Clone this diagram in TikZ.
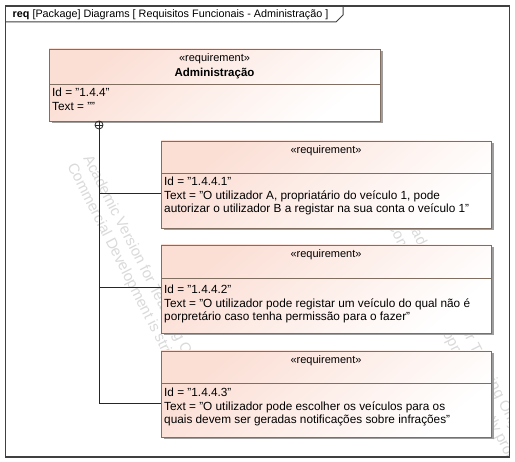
\documentclass[tikz,border=0pt]{standalone}
\usepackage{fontspec}
\setmainfont{Liberation Sans}
\usetikzlibrary{shadows}
\definecolor{boxbrd}{RGB}{128,110,96}
\definecolor{boxpink}{RGB}{251,222,212}
\definecolor{frm}{RGB}{64,64,64}
\definecolor{wm}{RGB}{218,218,218}
\tikzset{
  reqbox/.style={draw=boxbrd, line width=0.9pt, top color=boxpink, bottom color=white, shading angle=40,
    anchor=north west, inner sep=0pt, outer sep=0pt,
    drop shadow={shadow xshift=2.5pt, shadow yshift=-2.5pt, fill=black!38, opacity=1}},
  txt/.style={anchor=base west, inner sep=0pt, font=\fontsize{11.8}{13}\selectfont},
  stereo/.style={anchor=base, inner sep=0pt, font=\fontsize{11}{12}\selectfont},
  divider/.style={draw=boxbrd, line width=0.9pt},
  conn/.style={draw=black!85, line width=0.9pt},
  wmark/.style={text=wm, font=\fontsize{15}{17}\selectfont, rotate=-63, anchor=base west, inner sep=0pt}
}
\begin{document}
\begin{tikzpicture}[x=1pt,y=-1pt]
\useasboundingbox (0,0) rectangle (515,462);
\fill[white] (0,0) rectangle (515,462);
% watermark
\begin{scope}
\clip (5.5,22) rectangle (509.5,457);
\node[wmark] (wa1) at (83,158) {Academic Version for Teaching Only};
\node[wmark] (wb1) at (67,166) {Commercial Development is strictly prohibited};
\node[wmark] (wa2) at (403,216) {Academic Version for Teaching Only};
\node[wmark] (wb2) at (387,224) {Commercial Development is strictly prohibited};
\end{scope}
% frame
\draw[frm, line width=1.1pt] (5.5,6) rectangle (509.5,457);
\draw[frm, line width=1pt] (5.5,22) -- (336,22) -- (343,15) -- (343,6);
\node[anchor=base west, inner sep=0pt, font=\fontsize{10.8}{12}\selectfont] (title) at (12.5,18)
  {\textbf{req} [Package] Diagrams [ Requisitos Funcionais - Administração ]};
% boxes
\node[reqbox, minimum width=331pt, minimum height=72pt] (admin) at (49,49) {};
\draw[divider] (admin.west |- 0,84) -- (admin.east |- 0,84);
\node[stereo] (admst) at (214.5,61.5) {«requirement»};
\node[stereo, font=\fontsize{11.5}{12}\selectfont\bfseries] (admname) at (214.5,77) {Administração};
\node[txt] (admid) at (52,97) {Id = "1.4.4"};
\node[txt] (admtx) at (52,111) {Text = ""};

\node[reqbox, minimum width=330pt, minimum height=87pt] (r1) at (161,141) {};
\draw[divider] (r1.west |- 0,173) -- (r1.east |- 0,173);
\node[stereo] (r1st) at (326,153.5) {«requirement»};
\node[txt] (r1id) at (164,186) {Id = "1.4.4.1"};
\node[txt] (r1a) at (164,199.5) {Text = "O utilizador A, propriatário do veículo 1, pode};
\node[txt] (r1b) at (164,213) {autorizar o utilizador B a registar na sua conta o veículo 1"};

\node[reqbox, minimum width=330pt, minimum height=88pt] (r2) at (161,245) {};
\draw[divider] (r2.west |- 0,278) -- (r2.east |- 0,278);
\node[stereo] (r2st) at (326,257.5) {«requirement»};
\node[txt] (r2id) at (164,294) {Id = "1.4.4.2"};
\node[txt] (r2a) at (164,307.5) {Text = "O utilizador pode registar um veículo do qual não é};
\node[txt] (r2b) at (164,321) {porpretário caso tenha permissão para o fazer"};

\node[reqbox, minimum width=330pt, minimum height=86pt] (r3) at (161,351) {};
\draw[divider] (r3.west |- 0,383) -- (r3.east |- 0,383);
\node[stereo] (r3st) at (326,363.5) {«requirement»};
\node[txt] (r3id) at (164,397) {Id = "1.4.4.3"};
\node[txt] (r3a) at (164,410.5) {Text = "O utilizador pode escolher os veículos para os};
\node[txt] (r3b) at (164,424) {quais devem ser geradas notificações sobre infrações"};

% containment connector
\node[circle, draw=black!85, line width=0.8pt, minimum size=8pt, inner sep=0pt] (cp) at (99,125) {};
\draw[conn, line width=0.7pt] (cp.north) -- (cp.south) (cp.west) -- (cp.east);
\coordinate (j1) at (99,193);
\coordinate (j2) at (99,287);
\coordinate (j3) at (99,403);
\draw[conn] (cp.south) -- (j3) -- (r3.west |- j3);
\draw[conn] (j1) -- (r1.west |- j1);
\draw[conn] (j2) -- (r2.west |- j2);
\end{tikzpicture}
\end{document}
